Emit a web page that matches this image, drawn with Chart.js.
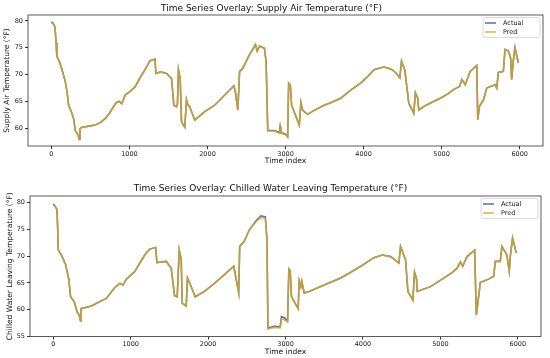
<!DOCTYPE html>
<html lang="en">
<head>
<meta charset="UTF-8">
<title>Time Series Overlay</title>
<script src="https://cdn.jsdelivr.net/npm/chart.js"></script>
<style>
  html, body { margin: 0; padding: 0; background: #fff; }
  body { width: 550px; height: 358px; position: relative; overflow: hidden; }
  canvas { position: absolute; left: 0; }
  #supplyChart { top: 0; }
  #chillChart { top: 179px; }
</style>
</head>
<body>
<canvas id="supplyChart" width="550" height="179"></canvas>
<canvas id="chillChart" width="550" height="179"></canvas>
<script>
// tick labels
const xTicks = [0, 1000, 2000, 3000, 4000, 5000, 6000];
const supplyYTicks = [60, 65, 70, 75, 80];
const chillYTicks = [55, 60, 65, 70, 75, 80];

// Supply air temperature
const supplyIndex = [0, 20, 45, 60, 70, 100, 136, 178, 200, 221, 250, 285, 306, 330, 345, 357, 365, 391, 480, 561,
  620, 689, 740, 795, 838, 870, 901, 920, 944, 1000, 1071, 1140, 1199, 1263, 1300, 1327, 1339, 1400, 1476, 1539,
  1569, 1603, 1615, 1628, 1650, 1667, 1690, 1709, 1731, 1745, 1773, 1837, 1964, 2092, 2262, 2338, 2360, 2389, 2411, 2453,
  2538, 2615, 2636, 2666, 2730, 2751, 2772, 2857, 2920, 2930, 2940, 3000, 3027, 3040, 3061, 3078, 3176, 3197, 3218, 3240,
  3282, 3350, 3495, 3600, 3708, 3835, 3963, 4050, 4133, 4200, 4260, 4320, 4366, 4420, 4464, 4486, 4528, 4579, 4643, 4664,
  4694, 4707, 4800, 4983, 5080, 5153, 5230, 5259, 5302, 5366, 5450, 5463, 5485, 5536, 5578, 5685, 5706, 5727, 5791, 5812,
  5855, 5884, 5897, 5918, 5940, 5982];
const supplyActual = [79.8, 79.6, 78.9, 76.0, 73.4, 72.5, 70.9, 68.7, 66.8, 64.3, 63.3, 61.8, 59.6, 59.0, 58.6, 57.9, 59.9, 60.2, 60.4, 60.6,
  61.0, 61.8, 62.7, 64.0, 64.9, 65.0, 64.6, 65.2, 66.2, 66.8, 67.7, 69.5, 70.9, 72.6, 72.7, 72.9, 70.2, 70.5, 70.2, 69.3,
  64.3, 64.0, 64.5, 70.9, 69.3, 61.2, 60.6, 60.2, 65.3, 64.5, 64.0, 61.5, 63.1, 64.3, 66.8, 67.9, 66.5, 63.4, 70.6, 71.2,
  73.7, 75.6, 74.4, 75.3, 74.9, 72.4, 59.6, 59.6, 59.2, 60.3, 59.2, 58.9, 58.4, 68.4, 68.1, 64.3, 60.6, 64.8, 63.4, 63.1,
  62.6, 63.2, 64.3, 64.9, 65.6, 67.1, 68.4, 69.6, 70.9, 71.2, 71.4, 71.2, 70.9, 70.2, 69.4, 72.5, 70.9, 64.7, 62.8, 66.6,
  65.6, 63.4, 64.3, 65.6, 66.4, 67.2, 67.8, 69.1, 68.1, 70.6, 71.7, 61.6, 64.1, 65.3, 67.5, 68.1, 67.5, 70.4, 70.6, 74.7,
  74.4, 73.1, 69.1, 72.5, 75.0, 72.2];
const supplyPred = [79.6, 79.5, 78.9, 76.0, 73.4, 72.5, 70.9, 68.7, 66.8, 64.3, 63.3, 61.8, 59.6, 59.0, 58.6, 57.9, 59.9, 60.2, 60.4, 60.6,
  61.0, 61.8, 62.7, 64.0, 64.9, 65.0, 64.6, 65.2, 66.2, 66.8, 67.7, 69.5, 70.9, 72.6, 72.7, 72.9, 70.2, 70.5, 70.2, 69.3,
  64.3, 64.0, 64.5, 70.9, 69.3, 61.2, 60.6, 60.2, 65.3, 64.5, 64.0, 61.5, 63.1, 64.3, 66.8, 67.9, 66.5, 63.4, 70.6, 71.2,
  73.7, 75.6, 74.4, 75.3, 74.9, 72.4, 59.5, 59.5, 59.1, 60.2, 59.1, 58.8, 58.4, 68.4, 68.1, 64.3, 60.6, 64.8, 63.4, 63.1,
  62.6, 63.2, 64.3, 64.9, 65.6, 67.1, 68.4, 69.6, 70.9, 71.2, 71.4, 71.2, 70.9, 70.2, 69.4, 72.5, 70.9, 64.7, 62.8, 66.6,
  65.6, 63.4, 64.3, 65.6, 66.4, 67.2, 67.8, 69.1, 68.1, 70.6, 71.7, 61.6, 64.1, 65.3, 67.5, 68.1, 67.5, 70.4, 70.6, 74.7,
  74.4, 73.1, 69.1, 72.5, 75.0, 72.2];

// Chilled water leaving temperature
const chillIndex = [0, 20, 48, 58, 64, 116, 160, 202, 224, 270, 309, 335, 353, 357, 494, 559, 687, 786, 859, 902,
  945, 1052, 1181, 1245, 1322, 1339, 1460, 1524, 1567, 1601, 1627, 1653, 1666, 1717, 1734, 1773, 1833, 1953, 2082, 2232,
  2331, 2395, 2408, 2468, 2533, 2619, 2683, 2739, 2760, 2773, 2854, 2931, 2948, 2983, 3026, 3043, 3060, 3077, 3163, 3176,
  3198, 3210, 3241, 3305, 3498, 3713, 3820, 3971, 4142, 4249, 4357, 4464, 4485, 4550, 4580, 4644, 4666, 4692, 4700, 4872,
  5043, 5150, 5214, 5258, 5288, 5343, 5442, 5464, 5485, 5516, 5622, 5687, 5709, 5773, 5794, 5858, 5889, 5902, 5932, 5979];
const chillActual = [79.7, 79.4, 78.7, 75.0, 71.2, 69.9, 68.4, 65.6, 62.4, 61.5, 59.6, 59.0, 57.9, 60.2, 60.7, 61.2, 62.1, 64.0, 64.9, 64.6,
  65.7, 67.1, 70.2, 71.3, 71.6, 68.8, 69.0, 67.7, 62.6, 62.4, 71.1, 69.3, 61.2, 60.7, 65.9, 64.6, 62.4, 63.4, 64.9, 66.8,
  68.1, 63.2, 71.8, 72.8, 74.9, 76.6, 77.5, 77.3, 73.1, 56.6, 56.9, 56.8, 58.7, 58.5, 57.9, 67.6, 67.3, 62.4, 60.2, 65.4,
  64.3, 65.3, 63.1, 63.4, 64.6, 65.9, 66.8, 68.1, 69.7, 70.2, 69.9, 68.7, 71.8, 69.3, 63.4, 61.8, 67.0, 65.7, 63.4, 64.3,
  65.9, 66.9, 67.7, 68.9, 68.1, 69.9, 71.1, 59.0, 61.5, 65.1, 65.7, 66.2, 69.0, 69.0, 71.8, 70.2, 67.2, 69.9, 73.4, 70.6];
const chillPred = [79.5, 79.3, 78.7, 75.0, 71.2, 69.9, 68.4, 65.6, 62.4, 61.5, 59.6, 59.0, 57.9, 60.2, 60.7, 61.2, 62.1, 64.0, 64.9, 64.6,
  65.7, 67.1, 70.2, 71.3, 71.6, 68.8, 69.0, 67.7, 62.6, 62.4, 71.1, 69.3, 61.2, 60.7, 65.9, 64.6, 62.4, 63.4, 64.9, 66.8,
  68.1, 63.2, 71.8, 72.8, 74.9, 76.4, 77.2, 77.0, 73.1, 56.4, 56.7, 56.6, 58.3, 58.1, 57.7, 67.6, 67.3, 62.4, 60.2, 65.4,
  64.3, 65.3, 63.1, 63.4, 64.6, 65.9, 66.8, 68.1, 69.7, 70.2, 69.9, 68.7, 71.8, 69.3, 63.4, 61.8, 67.0, 65.7, 63.4, 64.3,
  65.9, 66.9, 67.7, 68.9, 68.1, 69.9, 71.1, 59.0, 61.5, 65.1, 65.7, 66.2, 69.0, 69.0, 71.8, 70.2, 67.2, 69.9, 73.4, 70.6];

const FONT = '"DejaVu Sans", sans-serif';
const ACTUAL_COLOR = '#4c72b0';
const PRED_COLOR = 'rgba(218, 165, 32, 0.85)';

// matplotlib style frame around the plot area
const frame = {
  id: 'frame',
  afterDatasetsDraw(chart) {
    const { ctx, chartArea: a } = chart;
    ctx.save();
    ctx.strokeStyle = '#333';
    ctx.lineWidth = 0.8;
    ctx.strokeRect(a.left, a.top, a.right - a.left, a.bottom - a.top);
    ctx.restore();
  }
};

// legend in the upper right corner, inside the axes
const boxLegend = {
  id: 'boxLegend',
  afterDraw(chart) {
    const { ctx, chartArea: a } = chart;
    const w = 57, h = 20;
    const x = a.right - w - 3, y = a.top + 2.5;
    ctx.save();
    ctx.fillStyle = 'rgba(255,255,255,0.85)';
    ctx.strokeStyle = '#d0d0d0';
    ctx.lineWidth = 0.8;
    ctx.beginPath();
    ctx.roundRect(x, y, w, h, 2);
    ctx.fill();
    ctx.stroke();
    ctx.font = '6.5px ' + FONT;
    ctx.textBaseline = 'middle';
    chart.data.datasets.forEach((ds, i) => {
      const ly = y + 5.5 + i * 9;
      ctx.strokeStyle = ds.borderColor;
      ctx.lineWidth = 1.5;
      ctx.beginPath();
      ctx.moveTo(x + 2, ly);
      ctx.lineTo(x + 13, ly);
      ctx.stroke();
      ctx.fillStyle = '#222';
      ctx.fillText(ds.label, x + 20, ly);
    });
    ctx.restore();
  }
};

function toPoints(idx, vals) {
  return idx.map((x, i) => ({ x: x, y: vals[i] }));
}

function makeChart(id, cfg) {
  new Chart(document.getElementById(id), {
    type: 'line',
    data: {
      datasets: [
        { label: 'Actual', data: toPoints(cfg.index, cfg.actual), borderColor: ACTUAL_COLOR, order: 1 },
        { label: 'Pred', data: toPoints(cfg.index, cfg.pred), borderColor: PRED_COLOR, order: 0 }
      ]
    },
    options: {
      responsive: false,
      animation: false,
      devicePixelRatio: 1,
      layout: { padding: { left: 0, right: cfg.padRight, top: 0, bottom: cfg.padBottom } },
      elements: {
        point: { radius: 0 },
        line: { borderWidth: 1.6, tension: 0, fill: false }
      },
      plugins: {
        legend: { display: false },
        tooltip: { enabled: false },
        title: {
          display: true,
          text: cfg.title,
          color: '#111',
          font: { family: FONT, size: 9, weight: 'normal' },
          padding: { top: cfg.titleTop, bottom: cfg.titleBottom }
        }
      },
      scales: {
        x: {
          type: 'linear',
          min: -300,
          max: 6299,
          afterBuildTicks: s => { s.ticks = xTicks.map(v => ({ value: v })); },
          afterFit: s => { s.height = 20; },
          grid: { drawOnChartArea: false, tickLength: 3, tickColor: '#333' },
          border: { display: false },
          ticks: { color: '#222', padding: 1, maxRotation: 0, callback: v => String(v), font: { family: FONT, size: 6.5 } },
          title: { display: true, text: 'Time index', color: '#111', padding: 0, font: { family: FONT, size: 7.5 } }
        },
        y: {
          min: cfg.yMin,
          max: cfg.yMax,
          afterBuildTicks: s => { s.ticks = cfg.yTicks.map(v => ({ value: v })); },
          afterFit: s => { s.width = cfg.axisWidth; },
          grid: { drawOnChartArea: false, tickLength: 3, tickColor: '#333' },
          border: { display: false },
          ticks: { color: '#222', padding: 2, callback: v => String(v), font: { family: FONT, size: 6.5 } },
          title: { display: true, text: cfg.yLabel, color: '#111', padding: { top: cfg.yTitlePad, bottom: 0 }, font: { family: FONT, size: 7.5 } }
        }
      }
    },
    plugins: [frame, boxLegend]
  });
}

makeChart('supplyChart', {
  title: 'Time Series Overlay: Supply Air Temperature (°F)',
  yLabel: 'Supply Air Temperature (°F)',
  index: supplyIndex, actual: supplyActual, pred: supplyPred,
  yTicks: supplyYTicks, yMin: 56.7, yMax: 81.1,
  axisWidth: 28, yTitlePad: 3, padRight: 7, padBottom: 13,
  titleTop: 3, titleBottom: 1.2
});

makeChart('chillChart', {
  title: 'Time Series Overlay: Chilled Water Leaving Temperature (°F)',
  yLabel: 'Chilled Water Leaving Temperature (°F)',
  index: chillIndex, actual: chillActual, pred: chillPred,
  yTicks: chillYTicks, yMin: 55.0, yMax: 81.2,
  axisWidth: 30, yTitlePad: 6, padRight: 9, padBottom: 1.5,
  titleTop: 4.6, titleBottom: 1.6
});
</script>
</body>
</html>
